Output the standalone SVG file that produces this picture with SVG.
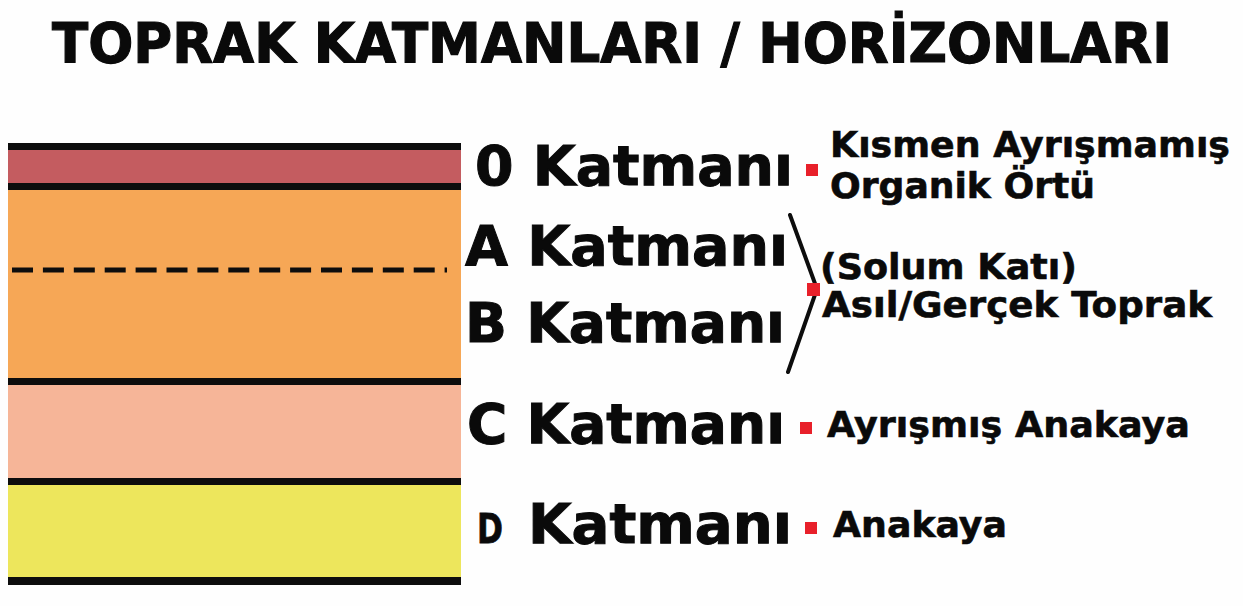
<svg xmlns="http://www.w3.org/2000/svg" width="1243" height="606" viewBox="0 0 1243 606">
  <style>
    .t { font-family: "DejaVu Sans", Verdana, sans-serif; font-weight: bold; fill: #0a0a0a; }
    .title { font-size: 55px; stroke: #0a0a0a; stroke-width: 1.2; }
    .layer { font-size: 55px; stroke: #0a0a0a; stroke-width: 1; }
    .note { font-size: 35px; stroke: #0a0a0a; stroke-width: 0.6; }
    .rule { fill: #0d0d0d; }
    .dot { fill: #e8202a; }
    .brace { stroke: #0d0d0d; stroke-width: 4; stroke-linecap: round; fill: none; }
  </style>

  <rect width="1243" height="606" fill="#fefefe"/>

  <text class="t title" x="52" y="62" textLength="1120" lengthAdjust="spacingAndGlyphs">TOPRAK KATMANLARI / HORİZONLARI</text>

  <!-- soil column -->
  <g id="soil-column">
    <rect x="8" y="150" width="453" height="34" fill="#c45c60"/>
    <rect x="8" y="190" width="453" height="189" fill="#f6a756"/>
    <rect x="8" y="385" width="453" height="94" fill="#f6b598"/>
    <rect x="8" y="485" width="453" height="93" fill="#ede65c"/>
    <rect class="rule" x="8" y="143" width="453" height="7"/>
    <rect class="rule" x="8" y="183" width="453" height="7"/>
    <rect class="rule" x="8" y="378" width="453" height="7"/>
    <rect class="rule" x="8" y="478" width="453" height="7"/>
    <rect class="rule" x="8" y="577" width="453" height="8"/>
    <line x1="12" y1="270" x2="447" y2="270" stroke="#0d0d0d" stroke-width="5" stroke-dasharray="21 9.9"/>
  </g>

  <!-- horizon labels -->
  <g id="horizon-o">
    <text class="t layer" x="475" y="185" textLength="318" lengthAdjust="spacingAndGlyphs">0 Katmanı</text>
    <rect class="dot" x="806" y="164" width="12" height="12"/>
    <text class="t note" x="830" y="157" textLength="400" lengthAdjust="spacingAndGlyphs">Kısmen Ayrışmamış</text>
    <text class="t note" x="830" y="198" textLength="265" lengthAdjust="spacingAndGlyphs">Organik Örtü</text>
  </g>

  <g id="horizon-a">
    <text class="t layer" x="465" y="265" textLength="323" lengthAdjust="spacingAndGlyphs">A Katmanı</text>
  </g>

  <g id="horizon-b">
    <text class="t layer" x="465" y="342" textLength="320" lengthAdjust="spacingAndGlyphs">B Katmanı</text>
  </g>

  <g id="solum">
    <text class="t note" x="820" y="279" textLength="257" lengthAdjust="spacingAndGlyphs">(Solum Katı)</text>
    <text class="t note" x="822" y="317" textLength="390" lengthAdjust="spacingAndGlyphs">Asıl/Gerçek Toprak</text>
  </g>

  <g id="horizon-c">
    <text class="t layer" x="467" y="443" textLength="318" lengthAdjust="spacingAndGlyphs">C Katmanı</text>
    <rect class="dot" x="800" y="422" width="12" height="12"/>
    <text class="t note" x="827" y="437" textLength="363" lengthAdjust="spacingAndGlyphs">Ayrışmış Anakaya</text>
  </g>

  <g id="horizon-d">
    <text class="t" x="477" y="543" font-size="41" stroke="#0a0a0a" stroke-width="0.8" textLength="26" lengthAdjust="spacingAndGlyphs">D</text>
    <text class="t layer" x="528" y="543" textLength="264" lengthAdjust="spacingAndGlyphs">Katmanı</text>
    <rect class="dot" x="805" y="522" width="12" height="12"/>
    <text class="t note" x="833" y="537" textLength="174" lengthAdjust="spacingAndGlyphs">Anakaya</text>
  </g>

  <!-- bracket joining A and B -->
  <g id="connectors">
    <path class="brace" d="M790 215 L817 289 L788 372"/>
    <rect class="dot" x="807" y="283" width="13" height="13"/>
  </g>
</svg>
